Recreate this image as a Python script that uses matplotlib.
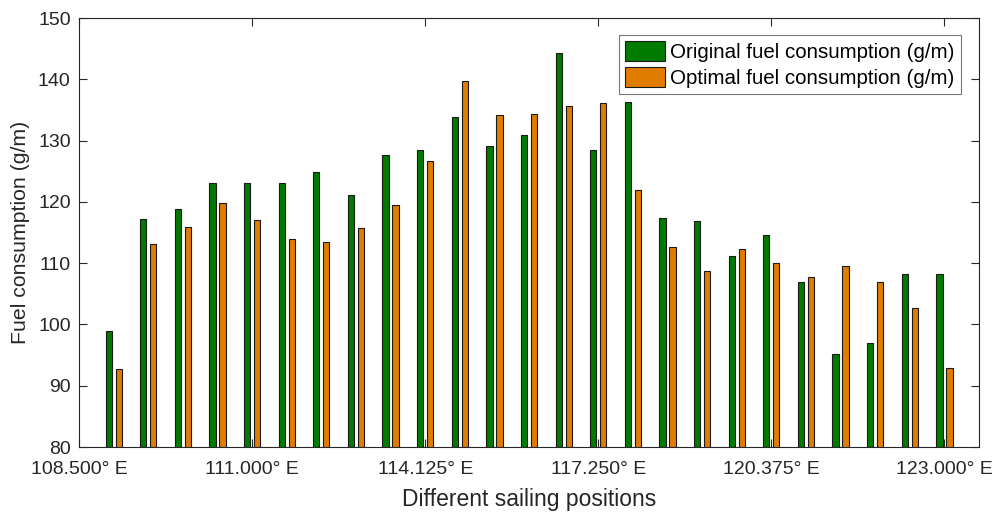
import numpy as np
import matplotlib
matplotlib.use("Agg")
import matplotlib.pyplot as plt

plt.rcParams['font.family'] = ['Liberation Sans', 'DejaVu Sans']

# fuel consumption per sailing position (g/m)
original = [99.0, 117.2, 118.8, 123.1, 123.1, 123.1, 124.9, 121.2, 127.6, 128.5,
            133.8, 129.1, 130.9, 144.3, 128.5, 136.3, 117.3, 116.9, 111.1, 114.6,
            107.0, 95.2, 96.9, 108.2, 108.2]
optimal = [92.7, 113.1, 115.9, 119.8, 117.0, 113.9, 113.4, 115.7, 119.5, 126.6,
           139.8, 134.1, 134.4, 135.6, 136.2, 121.9, 112.6, 108.7, 112.3, 110.0,
           107.8, 109.6, 107.0, 102.7, 92.9]
tick_pos = [0, 5, 10, 15, 20, 25]
tick_labels = ['108.500° E', '111.000° E', '114.125° E', '117.250° E', '120.375° E', '123.000° E']

green = '#007b00'
orange = '#e07c00'
dark = '#262626'

x = np.arange(1, len(original) + 1)

fig = plt.figure(figsize=(9.98, 5.16), dpi=100)
ax = fig.add_axes([0.0792, 0.1337, 0.9018, 0.8314])

w = 0.18
ax.bar(x - 0.145, original, width=w, color=green, edgecolor='#1a1a1a', linewidth=0.8,
       label='Original fuel consumption (g/m)')
ax.bar(x + 0.145, optimal, width=w, color=orange, edgecolor='#1a1a1a', linewidth=0.8,
       label='Optimal fuel consumption (g/m)')

ax.set_xlim(0, 26)
ax.set_ylim(80, 150)
ax.set_xticks(tick_pos)
ax.set_xticklabels(tick_labels)
ax.set_yticks(np.arange(80, 151, 10))
ax.tick_params(direction='in', top=True, right=True, length=6, width=0.8,
               colors=dark, labelsize=14)
ax.tick_params(axis='x', pad=10)
ax.tick_params(axis='y', pad=6)
for s in ax.spines.values():
    s.set_color(dark)
    s.set_linewidth(0.8)

ax.set_xlabel('Different sailing positions', fontsize=16.5, color=dark, labelpad=7)
ax.set_ylabel('Fuel consumption (g/m)', fontsize=15.3, color=dark, labelpad=6)

leg = ax.legend(loc='upper right', bbox_to_anchor=(0.98, 0.96), fontsize=14.8,
                fancybox=False, framealpha=1, edgecolor='#777777',
                handlelength=1.95, handleheight=1.1, handletextpad=0.25,
                borderpad=0.3, labelspacing=0.25, borderaxespad=0)
leg.get_frame().set_linewidth(0.8)

fig.savefig('out.png', dpi=100)
